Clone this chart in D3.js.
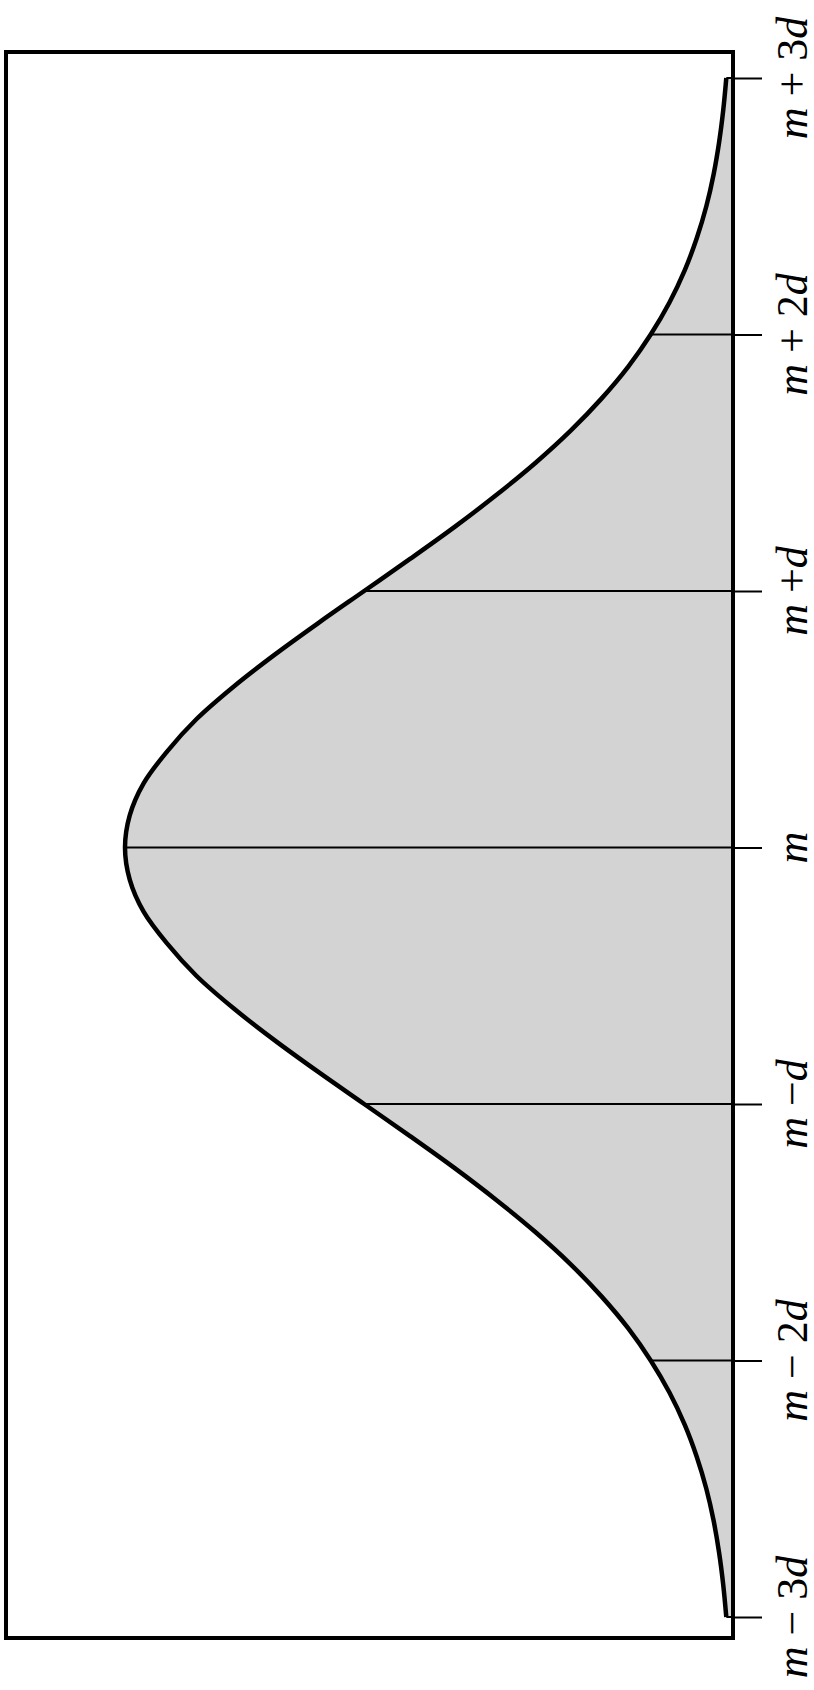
<!DOCTYPE html>
<html>
<head>
<meta charset="utf-8">
<script src="https://cdn.jsdelivr.net/npm/d3@7"></script>
<style>
  body { margin: 0; background: #fff; }
  svg { display: block; }
</style>
</head>
<body>
<div id="chart"></div>
<script>
// Standard-score positions along the axis, and the density read at each one
const zValues = [-3, -2.875, -2.75, -2.625, -2.5, -2.375, -2.25, -2.125, -2, -1.875, -1.75, -1.625,
                 -1.5, -1.375, -1.25, -1.125, -1, -0.875, -0.75, -0.625, -0.5, -0.375, -0.25, -0.125,
                 0, 0.125, 0.25, 0.375, 0.5, 0.625, 0.75, 0.875, 1, 1.125, 1.25, 1.375,
                 1.5, 1.625, 1.75, 1.875, 2, 2.125, 2.25, 2.375, 2.5, 2.625, 2.75, 2.875, 3];
const density = [0.0044, 0.0064, 0.0091, 0.0127, 0.0175, 0.0238, 0.0317, 0.0417, 0.0540, 0.0687, 0.0863, 0.1065,
                 0.1295, 0.1551, 0.1826, 0.2119, 0.2420, 0.2721, 0.3011, 0.3281, 0.3521, 0.3712, 0.3867, 0.3958,
                 0.3989, 0.3958, 0.3867, 0.3712, 0.3521, 0.3281, 0.3011, 0.2721, 0.2420, 0.2119, 0.1826, 0.1551,
                 0.1295, 0.1065, 0.0863, 0.0687, 0.0540, 0.0417, 0.0317, 0.0238, 0.0175, 0.0127, 0.0091, 0.0064, 0.0044];

// Tick values and their labels: [italic m, operator, coefficient, italic d]
const tickValues = [-3, -2, -1, 0, 1, 2, 3];
const tickLabels = [
    ['m', '\u2212', '3', 'd'],
    ['m', '\u2212', '2', 'd'],
    ['m', '\u2212', '', 'd'],
    ['m', '', '', ''],
    ['m', '+', '', 'd'],
    ['m', '+', '2', 'd'],
    ['m', '+', '3', 'd']
];

const W = 814, H = 1690;
const frame = { left: 6, top: 52, right: 733, bottom: 1638 };

const svg = d3.select('#chart').append('svg')
    .attr('width', W)
    .attr('height', H);

// chart is drawn on its side: z runs upward, density runs leftward
const zScale = d3.scaleLinear().domain([-3, 3]).range([1617, 78]);
const pScale = d3.scaleLinear().domain([0, 0.3989]).range([frame.right, 125]);

const points = zValues.map((z, i) => ({ z: z, p: density[i] }));

const area = d3.area()
    .y(d => zScale(d.z))
    .x0(pScale(0))
    .x1(d => pScale(d.p))
    .curve(d3.curveCatmullRom.alpha(0.5));

const line = d3.line()
    .y(d => zScale(d.z))
    .x(d => pScale(d.p))
    .curve(d3.curveCatmullRom.alpha(0.5));

svg.append('path')
    .datum(points)
    .attr('d', area)
    .attr('fill', '#d3d3d3');

// lines from the curve to the baseline at each tick
const tickPoints = tickValues.map(v => points.find(p => p.z === v));
svg.append('g').selectAll('line').data(tickPoints)
    .enter()
    .append('line')
    .attr('x1', d => pScale(d.p))
    .attr('x2', frame.right)
    .attr('y1', d => zScale(d.z))
    .attr('y2', d => zScale(d.z))
    .attr('stroke', '#000')
    .attr('stroke-width', 2);

svg.append('path')
    .datum(points)
    .attr('d', line)
    .attr('fill', 'none')
    .attr('stroke', '#000')
    .attr('stroke-width', 4.5);

svg.append('rect')
    .attr('x', frame.left)
    .attr('y', frame.top)
    .attr('width', frame.right - frame.left)
    .attr('height', frame.bottom - frame.top)
    .attr('fill', 'none')
    .attr('stroke', '#000')
    .attr('stroke-width', 4);

// tick marks outside the baseline
const axis = d3.axisRight(zScale)
    .tickValues(tickValues)
    .tickSize(29)
    .tickSizeOuter(0)
    .tickFormat('');

const axisG = svg.append('g')
    .attr('transform', `translate(${frame.right},0)`)
    .call(axis);
axisG.select('.domain').remove();
axisG.selectAll('.tick line').attr('stroke', '#000').attr('stroke-width', 2);

// rotated labels
const labels = svg.append('g')
    .attr('fill', '#000')
    .style('font-family', "'Liberation Serif', 'Times New Roman', Times, serif")
    .style('font-size', '44px');

labels.selectAll('text').data(tickValues)
    .enter()
    .append('text')
    .attr('text-anchor', 'middle')
    .attr('transform', v => `translate(807,${zScale(v)}) rotate(-90)`)
    .each(function(v, i) {
        const parts = tickLabels[i];
        const t = d3.select(this);
        t.append('tspan').style('font-style', 'italic').text(parts[0]);
        if (parts[1]) {
            t.append('tspan').attr('dx', 11).text(parts[1]);
            t.append('tspan').attr('dx', 11).text(parts[2]);
            t.append('tspan').style('font-style', 'italic').text(parts[3]);
        }
    });
</script>
</body>
</html>
